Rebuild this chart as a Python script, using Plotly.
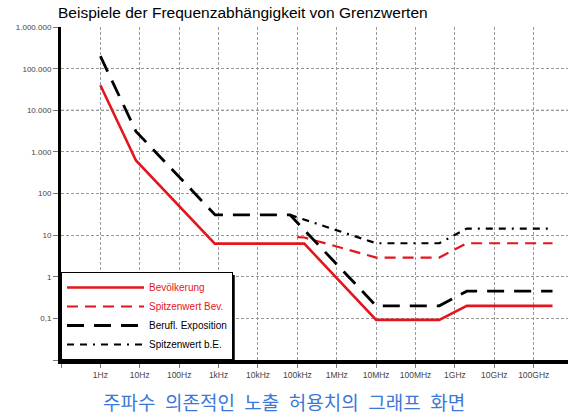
import plotly.graph_objects as go

# Frequencies in Hz, limit values (µT)
freq_bev = [1, 8, 800, 1.5e5, 1e7, 4e8, 2e9, 3e11]
val_bev = [40000, 625, 6.25, 6.25, 0.092, 0.092, 0.2, 0.2]

freq_peak_bev = [1e5, 1.5e5, 1e7, 4e8, 2e9, 3e11]
val_peak_bev = [9.0, 8.8, 2.9, 2.9, 6.4, 6.4]

freq_occ = [1, 8, 25, 820, 6.5e4, 1e7, 4e8, 2e9, 3e11]
val_occ = [200000, 3125, 1000, 30.7, 30.7, 0.2, 0.2, 0.45, 0.45]

freq_peak_occ = [6.5e4, 1e7, 4e8, 2e9, 3e11]
val_peak_occ = [30.7, 6.4, 6.4, 14.4, 14.4]

x_tickvals = [0.1, 1, 10, 100, 1e3, 1e4, 1e5, 1e6, 1e7, 1e8, 1e9, 1e10, 1e11]
x_ticktext = ["", "1Hz", "10Hz", "100Hz", "1kHz", "10kHz", "100kHz", "1MHz",
              "10MHz", "100MHz", "1GHz", "10GHz", "100GHz"]
y_tickvals = [0.01, 0.1, 1, 10, 100, 1e3, 1e4, 1e5, 1e6]
y_ticktext = ["", "0,1", "1", "10", "100", "1.000", "10.000", "100.000", "1.000.000"]

caption = "주파수 의존적인 노출 허용치의 그래프 화면"

RED = "#e3161d"

fig = go.Figure()
fig.add_trace(go.Scatter(x=freq_bev, y=val_bev, mode="lines",
                         name=f"<span style='color:{RED}'>Bevölkerung</span>",
                         line=dict(color=RED, width=2.6)))
fig.add_trace(go.Scatter(x=freq_peak_bev, y=val_peak_bev, mode="lines",
                         name=f"<span style='color:{RED}'>Spitzenwert Bev.</span>",
                         line=dict(color=RED, width=2.2, dash="11px,7px")))
fig.add_trace(go.Scatter(x=freq_occ, y=val_occ, mode="lines",
                         name="Berufl. Exposition",
                         line=dict(color="black", width=2.8, dash="17px,10px")))
fig.add_trace(go.Scatter(x=freq_peak_occ, y=val_peak_occ, mode="lines",
                         name="Spitzenwert b.E.",
                         line=dict(color="black", width=2.2,
                                   dash="7px,6px,7px,6px,2px,6px")))

fig.update_layout(
    width=568, height=414,
    margin=dict(l=61, r=0, t=27, b=54),
    paper_bgcolor="white", plot_bgcolor="white",
    font=dict(family="Liberation Sans, Arial, sans-serif", color="#333"),
    showlegend=True,
    legend=dict(x=0, y=0, xanchor="left", yanchor="bottom",
                bgcolor="white", bordercolor="black", borderwidth=1,
                font=dict(size=10, color="black"), itemwidth=77,
                tracegroupgap=0),
    title=dict(text="Beispiele der Frequenzabhängigkeit von Grenzwerten",
               x=58 / 568, xanchor="left", xref="container",
               y=1 - 12.5 / 414, yanchor="middle", yref="container",
               font=dict(size=15.5, color="black",
                         family="Liberation Sans, Arial, sans-serif")),
    xaxis=dict(type="log", range=[-1, 11.87], tickvals=x_tickvals, ticktext=x_ticktext,
               showgrid=True, gridcolor="#9a9a9a", griddash="3px,2px", gridwidth=1,
               showline=True, linecolor="black", linewidth=4,
               ticks="outside", ticklen=4, tickcolor="#777",
               tickfont=dict(size=8.5, color="#444"), zeroline=False),
    yaxis=dict(type="log", range=[-2, 6.003], tickvals=y_tickvals, ticktext=y_ticktext,
               showgrid=True, gridcolor="#9a9a9a", griddash="3px,2px", gridwidth=1,
               showline=True, linecolor="black", linewidth=3,
               ticks="outside", ticklen=5, tickcolor="#777",
               tickfont=dict(size=8, color="#444"), zeroline=False),
    shapes=[
        dict(type="line", xref="paper", x0=0, x1=1, yref="y", y0=1e4, y1=1e4,
             line=dict(color="#333", width=1, dash="3px,2px"), layer="below"),
        # legend drop shadow on the right edge
        dict(type="line", xref="paper", yref="paper",
             x0=(233.5 - 61) / 507, x1=(233.5 - 61) / 507,
             y0=0, y1=(360 - 275) / 333,
             line=dict(color="black", width=2.5), layer="above"),
    ],
    annotations=[dict(text=caption.replace(" ", "\u2002"),
                      xref="paper", yref="paper", x=(284 - 61) / 507, y=(360 - 401) / 333,
                      xanchor="center", yanchor="middle", showarrow=False,
                      font=dict(size=19, color="#3b78d8",
                                family="Noto Sans CJK KR"))],
)

fig.write_html("out.html", config={"displayModeBar": False},
               post_script="document.body.style.margin='0';")
